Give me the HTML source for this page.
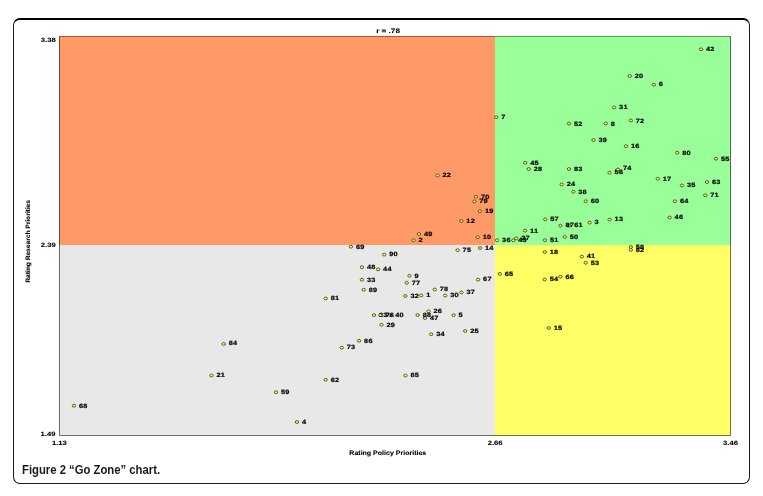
<!DOCTYPE html>
<html><head><meta charset="utf-8"><title>Figure 2 Go Zone chart</title>
<style>
html,body{margin:0;padding:0;background:#fff;}
body{width:763px;height:496px;position:relative;overflow:hidden;font-family:"Liberation Sans",sans-serif;}
#frame{position:absolute;left:13px;top:18px;width:735px;height:463px;border:1px solid #1a1a1a;border-top:2px solid #000;border-radius:7px;box-sizing:content-box;}
svg{position:absolute;left:0;top:0;will-change:transform;}
svg text{font-family:"Liberation Sans",sans-serif;font-weight:bold;fill:#000;text-rendering:geometricPrecision;}
.pt ellipse{fill:#ffff6e;stroke:#2e2a08;stroke-width:0.75;}
.pt text{font-size:6.15px;stroke:#000;stroke-width:0.2px;letter-spacing:0.15px;}
.ax{font-size:6.4px;stroke:#000;stroke-width:0.1px;}
#cap{position:absolute;left:22.3px;top:462.7px;transform-origin:0 0;transform:scaleX(0.897);font-size:12.6px;font-weight:bold;color:#1a1a1a;white-space:nowrap;letter-spacing:0px;}
</style></head><body>
<div id="frame"></div>
<svg width="763" height="496" viewBox="0 0 763 496">
<rect x="59" y="36" width="436" height="209" fill="#ff9966"/>
<rect x="495" y="36" width="236" height="209" fill="#99ff99"/>
<rect x="59" y="245" width="436" height="190.5" fill="#e8e8e8"/>
<rect x="495" y="245" width="236" height="190.5" fill="#ffff66"/>
<path d="M59.5 36 V435.5 H730.5 V36" fill="none" stroke="#000" stroke-opacity="0.55" stroke-width="1"/>
<path d="M60 36.5 H730" fill="none" stroke="#000" stroke-opacity="0.38" stroke-width="1"/>
<g class="ax">
<text transform="translate(376.2,33.3) scale(1.27,1)">r = .78</text>
<text transform="translate(40.8,42.3) scale(1.22,1)" font-size="6.25">3.38</text>
<text transform="translate(40.8,247.2) scale(1.22,1)" font-size="6.25">2.39</text>
<text transform="translate(40.6,435.7) scale(1.22,1)" font-size="6.25">1.49</text>
<text transform="translate(52.0,444.9) scale(1.22,1)" font-size="6.25">1.13</text>
<text transform="translate(487.7,444.9) scale(1.22,1)" font-size="6.25">2.66</text>
<text transform="translate(723.1,444.9) scale(1.22,1)" font-size="6.25">3.46</text>
<text transform="translate(349.3,454.5) scale(1.1,1)">Rating Policy Priorities</text>
<text transform="translate(30.2,282.8) rotate(-90) scale(1.036,1)">Rating Research Priorities</text>
</g>
<g class="pt">
<ellipse cx="421.20" cy="295.50" rx="1.7" ry="1.4"/><text transform="translate(426.20,297.25) scale(1.2,1)">1</text>
<ellipse cx="413.45" cy="240.25" rx="1.7" ry="1.4"/><text transform="translate(418.45,242.00) scale(1.2,1)">2</text>
<ellipse cx="589.60" cy="222.60" rx="1.7" ry="1.4"/><text transform="translate(594.60,224.35) scale(1.2,1)">3</text>
<ellipse cx="296.95" cy="422.00" rx="1.7" ry="1.4"/><text transform="translate(301.95,423.75) scale(1.2,1)">4</text>
<ellipse cx="453.60" cy="315.15" rx="1.7" ry="1.4"/><text transform="translate(458.60,316.90) scale(1.2,1)">5</text>
<ellipse cx="653.85" cy="84.70" rx="1.7" ry="1.4"/><text transform="translate(658.85,86.45) scale(1.2,1)">6</text>
<ellipse cx="496.20" cy="117.25" rx="1.7" ry="1.4"/><text transform="translate(501.20,119.00) scale(1.2,1)">7</text>
<ellipse cx="605.80" cy="123.50" rx="1.7" ry="1.4"/><text transform="translate(610.80,125.55) scale(1.2,1)">8</text>
<ellipse cx="409.45" cy="275.75" rx="1.7" ry="1.4"/><text transform="translate(414.45,277.50) scale(1.2,1)">9</text>
<ellipse cx="477.70" cy="237.25" rx="1.7" ry="1.4"/><text transform="translate(482.70,239.00) scale(1.2,1)">10</text>
<ellipse cx="525.05" cy="230.60" rx="1.7" ry="1.4"/><text transform="translate(530.05,232.85) scale(1.2,1)">11</text>
<ellipse cx="461.35" cy="221.05" rx="1.7" ry="1.4"/><text transform="translate(466.35,222.80) scale(1.2,1)">12</text>
<ellipse cx="609.60" cy="219.55" rx="1.7" ry="1.4"/><text transform="translate(614.60,221.30) scale(1.2,1)">13</text>
<ellipse cx="480.00" cy="248.00" rx="1.7" ry="1.4"/><text transform="translate(485.00,249.75) scale(1.2,1)">14</text>
<ellipse cx="548.70" cy="328.00" rx="1.7" ry="1.4"/><text transform="translate(553.70,329.75) scale(1.2,1)">15</text>
<ellipse cx="625.95" cy="146.25" rx="1.7" ry="1.4"/><text transform="translate(630.95,148.00) scale(1.2,1)">16</text>
<ellipse cx="657.80" cy="178.75" rx="1.7" ry="1.4"/><text transform="translate(662.80,180.50) scale(1.2,1)">17</text>
<ellipse cx="544.80" cy="252.00" rx="1.7" ry="1.4"/><text transform="translate(549.80,253.75) scale(1.2,1)">18</text>
<ellipse cx="479.90" cy="211.15" rx="1.7" ry="1.4"/><text transform="translate(484.90,213.20) scale(1.2,1)">19</text>
<ellipse cx="629.80" cy="76.05" rx="1.7" ry="1.4"/><text transform="translate(634.80,77.80) scale(1.2,1)">20</text>
<ellipse cx="211.45" cy="375.50" rx="1.7" ry="1.4"/><text transform="translate(216.45,377.25) scale(1.2,1)">21</text>
<ellipse cx="437.45" cy="175.50" rx="1.7" ry="1.4"/><text transform="translate(442.45,177.25) scale(1.2,1)">22</text>
<ellipse cx="374.00" cy="315.10" rx="1.7" ry="1.4"/><text transform="translate(379.00,316.85) scale(1.2,1)">23</text>
<ellipse cx="561.70" cy="184.50" rx="1.7" ry="1.4"/><text transform="translate(566.70,186.25) scale(1.2,1)">24</text>
<ellipse cx="465.20" cy="331.00" rx="1.7" ry="1.4"/><text transform="translate(470.20,332.75) scale(1.2,1)">25</text>
<ellipse cx="428.55" cy="311.40" rx="1.7" ry="1.4"/><text transform="translate(433.55,313.15) scale(1.2,1)">26</text>
<ellipse cx="516.20" cy="238.40" rx="1.7" ry="1.4"/><text transform="translate(521.20,240.15) scale(1.2,1)">27</text>
<ellipse cx="528.70" cy="169.00" rx="1.7" ry="1.4"/><text transform="translate(533.70,170.75) scale(1.2,1)">28</text>
<ellipse cx="381.50" cy="324.80" rx="1.7" ry="1.4"/><text transform="translate(386.50,326.55) scale(1.2,1)">29</text>
<ellipse cx="445.20" cy="295.50" rx="1.7" ry="1.4"/><text transform="translate(450.20,297.25) scale(1.2,1)">30</text>
<ellipse cx="614.10" cy="107.50" rx="1.7" ry="1.4"/><text transform="translate(619.10,109.25) scale(1.2,1)">31</text>
<ellipse cx="405.45" cy="296.00" rx="1.7" ry="1.4"/><text transform="translate(410.45,297.75) scale(1.2,1)">32</text>
<ellipse cx="361.95" cy="279.75" rx="1.7" ry="1.4"/><text transform="translate(366.95,281.50) scale(1.2,1)">33</text>
<ellipse cx="431.20" cy="334.25" rx="1.7" ry="1.4"/><text transform="translate(436.20,336.00) scale(1.2,1)">34</text>
<ellipse cx="681.95" cy="185.50" rx="1.7" ry="1.4"/><text transform="translate(686.95,187.25) scale(1.2,1)">35</text>
<ellipse cx="497.10" cy="240.20" rx="1.7" ry="1.4"/><text transform="translate(502.10,241.95) scale(1.2,1)">36</text>
<ellipse cx="461.45" cy="292.50" rx="1.7" ry="1.4"/><text transform="translate(466.45,294.25) scale(1.2,1)">37</text>
<ellipse cx="573.30" cy="191.75" rx="1.7" ry="1.4"/><text transform="translate(578.30,193.50) scale(1.2,1)">38</text>
<ellipse cx="593.45" cy="140.00" rx="1.7" ry="1.4"/><text transform="translate(598.45,141.75) scale(1.2,1)">39</text>
<ellipse cx="390.20" cy="315.10" rx="1.7" ry="1.4"/><text transform="translate(395.20,316.85) scale(1.2,1)">40</text>
<ellipse cx="581.80" cy="256.65" rx="1.7" ry="1.4"/><text transform="translate(586.80,258.40) scale(1.2,1)">41</text>
<ellipse cx="700.95" cy="49.25" rx="1.7" ry="1.4"/><text transform="translate(705.95,51.00) scale(1.2,1)">42</text>
<ellipse cx="513.30" cy="240.30" rx="1.7" ry="1.4"/><text transform="translate(518.30,242.05) scale(1.2,1)">43</text>
<ellipse cx="378.10" cy="269.35" rx="1.7" ry="1.4"/><text transform="translate(383.10,271.10) scale(1.2,1)">44</text>
<ellipse cx="525.20" cy="162.75" rx="1.7" ry="1.4"/><text transform="translate(530.20,164.50) scale(1.2,1)">45</text>
<ellipse cx="669.60" cy="217.50" rx="1.7" ry="1.4"/><text transform="translate(674.60,219.25) scale(1.2,1)">46</text>
<ellipse cx="425.00" cy="318.10" rx="1.7" ry="1.4"/><text transform="translate(430.00,319.85) scale(1.2,1)">47</text>
<ellipse cx="361.95" cy="267.15" rx="1.7" ry="1.4"/><text transform="translate(366.95,268.90) scale(1.2,1)">48</text>
<ellipse cx="418.95" cy="234.00" rx="1.7" ry="1.4"/><text transform="translate(423.95,235.75) scale(1.2,1)">49</text>
<ellipse cx="564.80" cy="236.90" rx="1.7" ry="1.4"/><text transform="translate(569.80,238.65) scale(1.2,1)">50</text>
<ellipse cx="544.90" cy="240.20" rx="1.7" ry="1.4"/><text transform="translate(549.90,241.95) scale(1.2,1)">51</text>
<ellipse cx="568.95" cy="123.50" rx="1.7" ry="1.4"/><text transform="translate(573.95,125.55) scale(1.2,1)">52</text>
<ellipse cx="585.70" cy="262.75" rx="1.7" ry="1.4"/><text transform="translate(590.70,264.50) scale(1.2,1)">53</text>
<ellipse cx="544.70" cy="279.50" rx="1.7" ry="1.4"/><text transform="translate(549.70,281.25) scale(1.2,1)">54</text>
<ellipse cx="715.95" cy="158.75" rx="1.7" ry="1.4"/><text transform="translate(720.95,160.50) scale(1.2,1)">55</text>
<ellipse cx="609.60" cy="172.65" rx="1.7" ry="1.4"/><text transform="translate(614.60,174.40) scale(1.2,1)">56</text>
<ellipse cx="545.30" cy="219.35" rx="1.7" ry="1.4"/><text transform="translate(550.30,221.10) scale(1.2,1)">57</text>
<ellipse cx="630.80" cy="247.00" rx="1.7" ry="1.4"/><text transform="translate(635.80,248.75) scale(1.2,1)">58</text>
<ellipse cx="275.95" cy="392.25" rx="1.7" ry="1.4"/><text transform="translate(280.95,394.00) scale(1.2,1)">59</text>
<ellipse cx="585.70" cy="201.25" rx="1.7" ry="1.4"/><text transform="translate(590.70,203.00) scale(1.2,1)">60</text>
<ellipse cx="569.20" cy="225.70" rx="1.7" ry="1.4"/><text transform="translate(574.20,227.45) scale(1.2,1)">61</text>
<ellipse cx="325.70" cy="379.75" rx="1.7" ry="1.4"/><text transform="translate(330.70,381.50) scale(1.2,1)">62</text>
<ellipse cx="706.95" cy="182.00" rx="1.7" ry="1.4"/><text transform="translate(711.95,183.75) scale(1.2,1)">63</text>
<ellipse cx="674.95" cy="201.25" rx="1.7" ry="1.4"/><text transform="translate(679.95,203.00) scale(1.2,1)">64</text>
<ellipse cx="499.80" cy="273.85" rx="1.7" ry="1.4"/><text transform="translate(504.80,275.60) scale(1.2,1)">65</text>
<ellipse cx="560.45" cy="276.75" rx="1.7" ry="1.4"/><text transform="translate(565.45,278.50) scale(1.2,1)">66</text>
<ellipse cx="478.10" cy="279.65" rx="1.7" ry="1.4"/><text transform="translate(483.10,281.40) scale(1.2,1)">67</text>
<ellipse cx="73.95" cy="405.75" rx="1.7" ry="1.4"/><text transform="translate(78.95,407.50) scale(1.2,1)">68</text>
<ellipse cx="350.95" cy="246.75" rx="1.7" ry="1.4"/><text transform="translate(355.95,248.50) scale(1.2,1)">69</text>
<ellipse cx="475.90" cy="196.75" rx="1.7" ry="1.4"/><text transform="translate(480.90,198.50) scale(1.2,1)">70</text>
<ellipse cx="705.20" cy="195.25" rx="1.7" ry="1.4"/><text transform="translate(710.20,197.00) scale(1.2,1)">71</text>
<ellipse cx="630.80" cy="120.50" rx="1.7" ry="1.4"/><text transform="translate(635.80,122.55) scale(1.2,1)">72</text>
<ellipse cx="341.80" cy="347.65" rx="1.7" ry="1.4"/><text transform="translate(346.80,349.40) scale(1.2,1)">73</text>
<ellipse cx="617.95" cy="169.50" rx="1.7" ry="1.4"/><text transform="translate(622.95,170.45) scale(1.2,1)">74</text>
<ellipse cx="457.60" cy="250.15" rx="1.7" ry="1.4"/><text transform="translate(462.60,251.90) scale(1.2,1)">75</text>
<ellipse cx="380.40" cy="315.10" rx="1.7" ry="1.4"/><text transform="translate(385.40,316.85) scale(1.2,1)">76</text>
<ellipse cx="406.70" cy="282.75" rx="1.7" ry="1.4"/><text transform="translate(411.70,284.50) scale(1.2,1)">77</text>
<ellipse cx="434.70" cy="289.50" rx="1.7" ry="1.4"/><text transform="translate(439.70,291.25) scale(1.2,1)">78</text>
<ellipse cx="474.30" cy="201.45" rx="1.7" ry="1.4"/><text transform="translate(479.30,203.20) scale(1.2,1)">79</text>
<ellipse cx="677.20" cy="152.75" rx="1.7" ry="1.4"/><text transform="translate(682.20,154.50) scale(1.2,1)">80</text>
<ellipse cx="325.70" cy="298.50" rx="1.7" ry="1.4"/><text transform="translate(330.70,300.25) scale(1.2,1)">81</text>
<ellipse cx="630.80" cy="249.90" rx="1.7" ry="1.4"/><text transform="translate(635.80,251.65) scale(1.2,1)">82</text>
<ellipse cx="568.95" cy="169.00" rx="1.7" ry="1.4"/><text transform="translate(573.95,170.75) scale(1.2,1)">83</text>
<ellipse cx="223.70" cy="343.95" rx="1.7" ry="1.4"/><text transform="translate(228.70,345.25) scale(1.2,1)">84</text>
<ellipse cx="405.45" cy="375.50" rx="1.7" ry="1.4"/><text transform="translate(410.45,377.25) scale(1.2,1)">85</text>
<ellipse cx="359.10" cy="340.75" rx="1.7" ry="1.4"/><text transform="translate(364.10,342.50) scale(1.2,1)">86</text>
<ellipse cx="560.40" cy="225.65" rx="1.7" ry="1.4"/><text transform="translate(565.40,227.40) scale(1.2,1)">87</text>
<ellipse cx="417.65" cy="315.05" rx="1.7" ry="1.4"/><text transform="translate(422.65,316.80) scale(1.2,1)">88</text>
<ellipse cx="363.70" cy="289.75" rx="1.7" ry="1.4"/><text transform="translate(368.70,291.50) scale(1.2,1)">89</text>
<ellipse cx="384.20" cy="254.65" rx="1.7" ry="1.4"/><text transform="translate(389.20,256.40) scale(1.2,1)">90</text>
</g>
</svg>
<div id="cap">Figure 2 “Go Zone” chart.</div>
</body></html>
